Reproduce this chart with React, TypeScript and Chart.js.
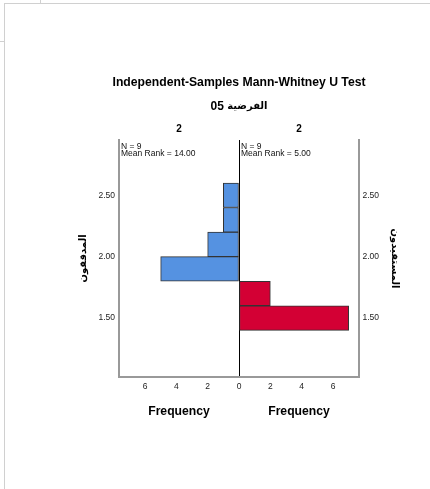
import { useEffect, useRef } from "react";
import { Chart, registerables } from "chart.js";

Chart.register(...registerables);

const FONT = "'Liberation Sans', Arial, 'DejaVu Sans', sans-serif";

const titleText = "Independent-Samples Mann-Whitney U Test";
const subtitleWord = "الفرضية";
const subtitleNum = "05";
const binCenters = [1.5, 1.7, 1.9, 2.1, 2.3, 2.5];
const leftFreq = [0, 0, 5, 2, 1, 1];
const rightFreq = [7, 2, 0, 0, 0, 0];
const leftGroup = "المدققون";
const rightGroup = "المستفيدون";
const panelHeaders = ["2", "2"];
const leftStats = ["N = 9", "Mean Rank = 14.00"];
const rightStats = ["N = 9", "Mean Rank = 5.00"];
const yTicks = [1.5, 2.0, 2.5];
const xTicks = [-6, -4, -2, 0, 2, 4, 6];
const xLabel = "Frequency";

const textPlugin = {
  id: "panelText",
  afterDraw(chart: any) {
    const { ctx, chartArea } = chart;
    const xs = chart.scales.x;
    const x0 = xs.getPixelForValue(0);
    const lc = (chartArea.left + x0) / 2;
    const rc = (x0 + chartArea.right) / 2;
    const cc = (chartArea.left + chartArea.right) / 2;
    ctx.save();
    ctx.fillStyle = "#000";
    ctx.textAlign = "center";
    ctx.textBaseline = "middle";
    ctx.font = `bold 12.2px ${FONT}`;
    ctx.fillText(titleText, cc, chartArea.top - 57);
    // subtitle: "05" on the left, Arabic word on the right (RTL reading)
    const numFont = `bold 12px ${FONT}`;
    const arFont = `bold 10px ${FONT}`;
    ctx.font = numFont;
    const wNum = ctx.measureText(subtitleNum + " ").width;
    ctx.font = arFont;
    const wAr = ctx.measureText(subtitleWord).width;
    const sx = cc - (wNum + wAr) / 2;
    ctx.textAlign = "left";
    ctx.font = numFont;
    ctx.fillText(subtitleNum, sx, chartArea.top - 33);
    ctx.font = arFont;
    ctx.fillText(subtitleWord, sx + wNum, chartArea.top - 34);
    ctx.textAlign = "center";
    ctx.font = `bold 10px ${FONT}`;
    ctx.fillText(panelHeaders[0], lc, chartArea.top - 11);
    ctx.fillText(panelHeaders[1], rc, chartArea.top - 11);
    ctx.font = `bold 12.2px ${FONT}`;
    ctx.fillText(xLabel, lc, chartArea.bottom + 34.5);
    ctx.fillText(xLabel, rc, chartArea.bottom + 34.5);
    ctx.textAlign = "left";
    ctx.font = `8.5px ${FONT}`;
    ctx.fillStyle = "#111";
    leftStats.forEach((s, i) => ctx.fillText(s, chartArea.left + 2, chartArea.top + 6.5 + i * 7.5));
    rightStats.forEach((s, i) => ctx.fillText(s, x0 + 2, chartArea.top + 6.5 + i * 7.5));
    ctx.restore();
  },
};

export default function App() {
  const ref = useRef<HTMLCanvasElement>(null);
  useEffect(() => {
    const canvas = ref.current;
    if (!canvas) return;
    const leftData = binCenters
      .map((y, i) => ({ y, x: -leftFreq[i] }))
      .filter((d) => d.x !== 0);
    const rightData = binCenters
      .map((y, i) => ({ y, x: rightFreq[i] }))
      .filter((d) => d.x !== 0);
    const yCommon = (pos: string) => ({
      type: "linear" as const,
      position: pos,
      min: 1.02,
      max: 2.95,
      offset: false,
      afterBuildTicks: (s: any) => {
        s.ticks = yTicks.map((v) => ({ value: v }));
      },
      ticks: {
        callback: (v: any) => Number(v).toFixed(2),
        font: { size: 8.5, family: FONT },
        color: "#222",
        padding: pos === "left" ? 4 : 3.5,
      },
      grid: { display: false, drawTicks: false, offset: false },
      border: { display: true, color: "#999", width: 2 },
    });
    const chart = new Chart(canvas, {
      type: "bar",
      data: {
        datasets: [
          {
            label: leftGroup,
            data: leftData,
            backgroundColor: "#5592e1",
            borderColor: "#333",
            borderWidth: 1,
            borderSkipped: false,
            grouped: false,
            categoryPercentage: 1,
            barPercentage: 1,
            yAxisID: "y",
          },
          {
            label: rightGroup,
            data: rightData,
            backgroundColor: "#d30034",
            borderColor: "#333",
            borderWidth: 1,
            borderSkipped: false,
            grouped: false,
            categoryPercentage: 1,
            barPercentage: 1,
            yAxisID: "y",
          },
        ],
      } as any,
      options: {
        indexAxis: "y",
        responsive: false,
        animation: false,
        layout: { padding: { top: 140, left: 0, right: 0, bottom: 0 } },
        plugins: { legend: { display: false }, tooltip: { enabled: false }, title: { display: false } },
        scales: {
          x: {
            type: "linear",
            min: -7.66,
            max: 7.66,
            offset: false,
            afterBuildTicks: (s: any) => {
              s.ticks = xTicks.map((v) => ({ value: v }));
            },
            ticks: {
              callback: (v: any) => String(Math.abs(Number(v))),
              font: { size: 8.5, family: FONT },
              color: "#222",
              padding: 5,
              maxRotation: 0,
            },
            grid: {
              drawTicks: false,
              offset: false,
              color: (c: any) => (c.tick && c.tick.value === 0 ? "#000" : "rgba(0,0,0,0)"),
              lineWidth: 1,
            },
            border: { display: true, color: "#999", width: 2 },
            afterFit: (s: any) => {
              s.height = 112;
            },
          },
          y: {
            ...yCommon("left"),
            title: {
              display: true,
              text: leftGroup,
              font: { size: 10, weight: "bold", family: FONT },
              color: "#000",
              padding: { top: 77, bottom: 0 },
            },
            afterFit: (s: any) => {
              s.width = 119;
            },
          },
          y2: {
            ...yCommon("right"),
            title: {
              display: true,
              text: rightGroup,
              font: { size: 10, weight: "bold", family: FONT },
              color: "#000",
              padding: { top: 29, bottom: 0 },
            },
            afterFit: (s: any) => {
              s.width = 71;
            },
          },
        },
      } as any,
      plugins: [textPlugin],
    });
    return () => chart.destroy();
  }, []);

  const line = (l: number, t: number, w: number, h: number) => (
    <div style={{ position: "absolute", left: l, top: t, width: w, height: h, background: "#d0d0d0" }} />
  );

  return (
    <div style={{ position: "absolute", left: 0, top: 0, width: 430, height: 489, background: "#fff", overflow: "hidden" }}>
      <canvas ref={ref} width={430} height={489} style={{ position: "absolute", left: 0, top: 0 }} />
      {line(4, 3, 426, 1)}
      {line(4, 3, 1, 486)}
      {line(40, 0, 1, 3)}
      {line(0, 41, 4, 1)}
    </div>
  );
}
